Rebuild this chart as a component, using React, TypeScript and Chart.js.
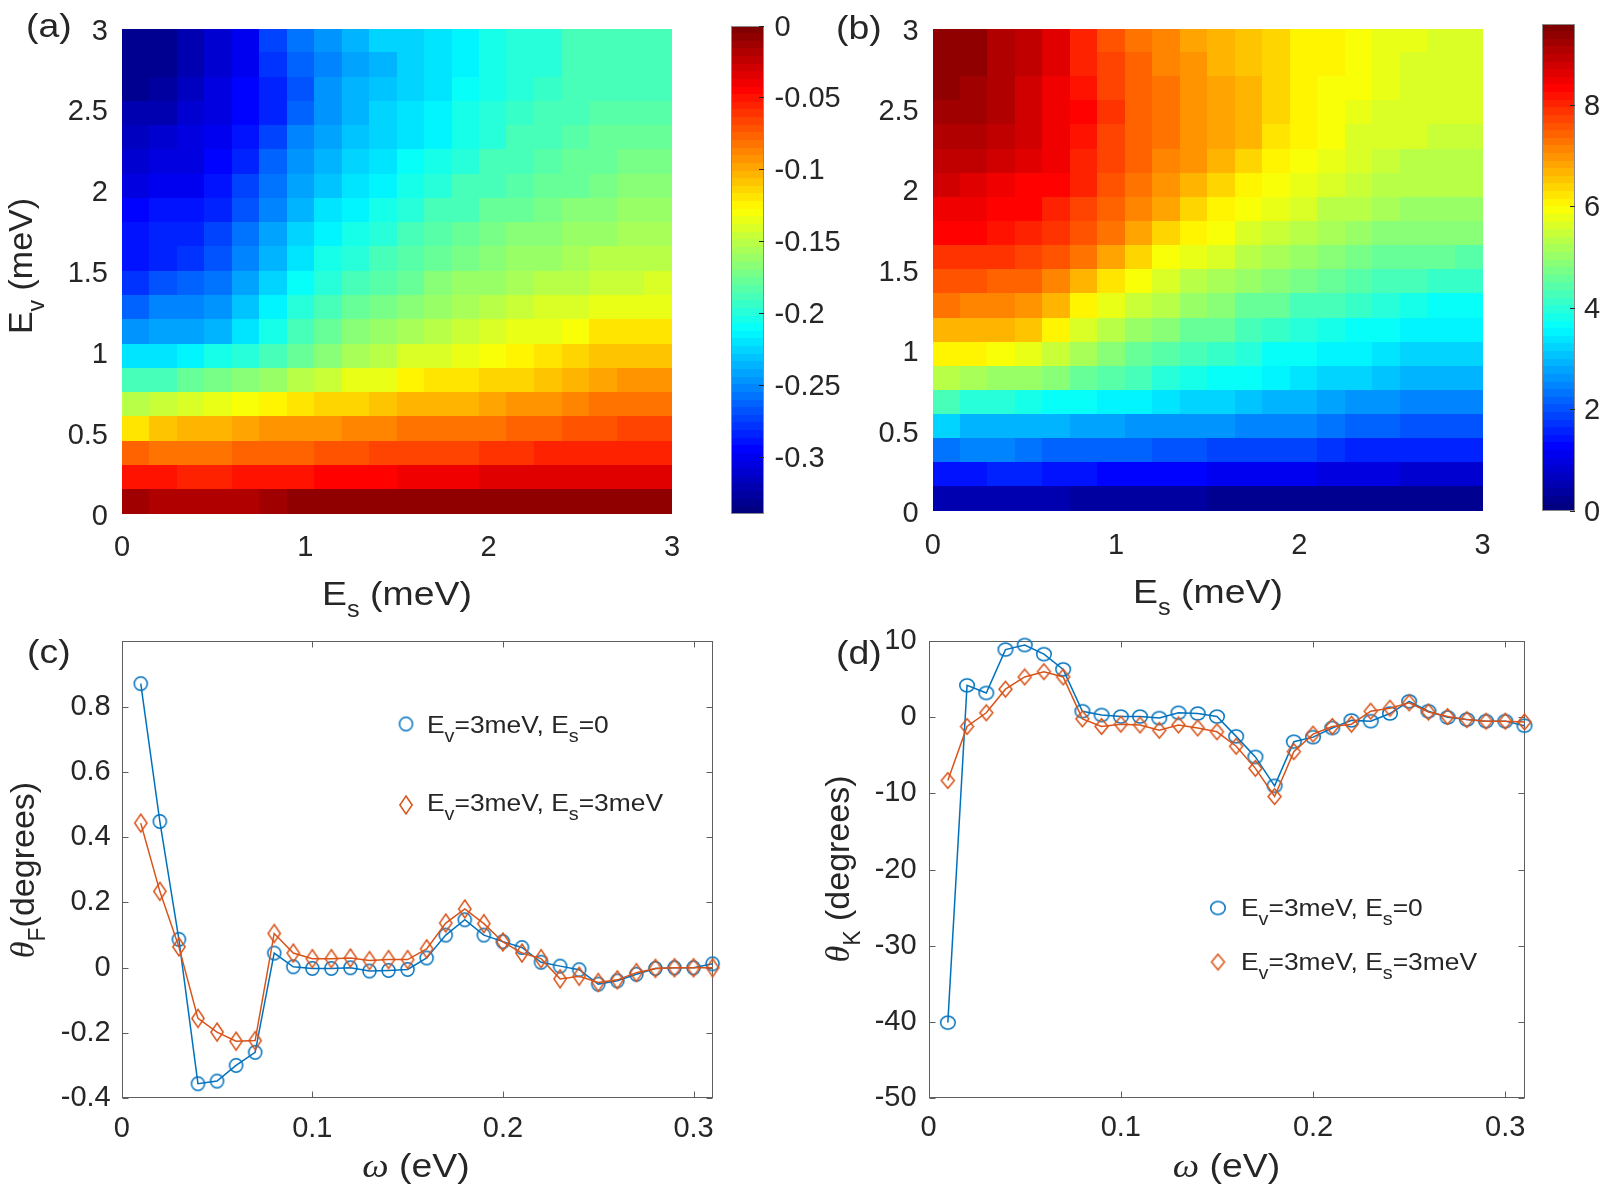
import React, { useEffect, useRef } from "react";
import { Chart, registerables } from "chart.js";

Chart.register(...registerables);

// ---------------- data ----------------
// heat-map grid (cell centres, meV); rows listed from top (E_v = 3) to bottom (E_v = 0)
const ES_CENTERS = [0.075, 0.225, 0.375, 0.525, 0.675, 0.825, 0.975, 1.125, 1.275, 1.425, 1.575, 1.725, 1.875, 2.025, 2.175, 2.325, 2.475, 2.625, 2.775, 2.925];
const EV_CENTERS = [2.925, 2.775, 2.625, 2.475, 2.325, 2.175, 2.025, 1.875, 1.725, 1.575, 1.425, 1.275, 1.125, 0.975, 0.825, 0.675, 0.525, 0.375, 0.225, 0.075];
const SPIN_X_TICKS = [0, 1, 2, 3];
const SPIN_Y_TICKS = [0, 0.5, 1, 1.5, 2, 2.5, 3];

const MAP_A_RANGE = [-0.34, 0];
const MAP_A_TICKS = [-0.3, -0.25, -0.2, -0.15, -0.1, -0.05, 0];
const MAP_A_ROWS = [
  [-0.333, -0.330, -0.320, -0.313, -0.299, -0.272, -0.258, -0.248, -0.238, -0.228, -0.224, -0.221, -0.214, -0.204, -0.201, -0.197, -0.190, -0.190, -0.187, -0.187],
  [-0.333, -0.330, -0.320, -0.309, -0.298, -0.279, -0.265, -0.252, -0.241, -0.235, -0.228, -0.221, -0.214, -0.207, -0.201, -0.197, -0.190, -0.190, -0.187, -0.187],
  [-0.330, -0.326, -0.316, -0.306, -0.296, -0.282, -0.269, -0.248, -0.238, -0.231, -0.224, -0.218, -0.211, -0.204, -0.197, -0.194, -0.190, -0.187, -0.187, -0.187],
  [-0.323, -0.320, -0.313, -0.303, -0.296, -0.282, -0.265, -0.245, -0.235, -0.228, -0.221, -0.214, -0.207, -0.201, -0.194, -0.190, -0.187, -0.184, -0.184, -0.184],
  [-0.316, -0.313, -0.306, -0.299, -0.292, -0.272, -0.255, -0.241, -0.231, -0.224, -0.218, -0.213, -0.204, -0.197, -0.190, -0.187, -0.184, -0.180, -0.180, -0.180],
  [-0.309, -0.306, -0.303, -0.296, -0.286, -0.265, -0.248, -0.238, -0.228, -0.218, -0.211, -0.204, -0.197, -0.190, -0.187, -0.184, -0.180, -0.177, -0.173, -0.173],
  [-0.303, -0.299, -0.298, -0.289, -0.275, -0.258, -0.241, -0.231, -0.221, -0.214, -0.207, -0.197, -0.190, -0.187, -0.184, -0.180, -0.177, -0.173, -0.170, -0.170],
  [-0.296, -0.292, -0.289, -0.282, -0.269, -0.252, -0.235, -0.221, -0.214, -0.207, -0.197, -0.190, -0.187, -0.180, -0.177, -0.173, -0.170, -0.167, -0.163, -0.163],
  [-0.292, -0.286, -0.282, -0.275, -0.258, -0.241, -0.228, -0.214, -0.207, -0.197, -0.190, -0.184, -0.180, -0.173, -0.170, -0.167, -0.163, -0.160, -0.156, -0.156],
  [-0.289, -0.282, -0.279, -0.269, -0.252, -0.235, -0.218, -0.207, -0.197, -0.190, -0.184, -0.177, -0.173, -0.167, -0.163, -0.160, -0.156, -0.153, -0.150, -0.150],
  [-0.279, -0.269, -0.265, -0.258, -0.241, -0.224, -0.211, -0.197, -0.190, -0.184, -0.177, -0.170, -0.163, -0.160, -0.156, -0.153, -0.150, -0.146, -0.146, -0.143],
  [-0.262, -0.255, -0.255, -0.248, -0.231, -0.214, -0.201, -0.190, -0.180, -0.173, -0.167, -0.160, -0.156, -0.150, -0.146, -0.143, -0.139, -0.136, -0.133, -0.133],
  [-0.245, -0.241, -0.241, -0.235, -0.218, -0.204, -0.190, -0.180, -0.170, -0.163, -0.156, -0.150, -0.146, -0.143, -0.136, -0.133, -0.129, -0.122, -0.122, -0.122],
  [-0.218, -0.218, -0.214, -0.207, -0.201, -0.187, -0.177, -0.167, -0.156, -0.150, -0.143, -0.139, -0.133, -0.129, -0.126, -0.122, -0.116, -0.109, -0.109, -0.109],
  [-0.190, -0.187, -0.180, -0.173, -0.170, -0.163, -0.153, -0.146, -0.136, -0.133, -0.126, -0.122, -0.119, -0.116, -0.112, -0.109, -0.102, -0.099, -0.095, -0.095],
  [-0.153, -0.146, -0.143, -0.136, -0.129, -0.126, -0.119, -0.116, -0.112, -0.109, -0.105, -0.102, -0.102, -0.099, -0.095, -0.092, -0.088, -0.085, -0.082, -0.082],
  [-0.119, -0.109, -0.105, -0.102, -0.099, -0.095, -0.092, -0.092, -0.088, -0.088, -0.085, -0.085, -0.082, -0.082, -0.078, -0.075, -0.071, -0.071, -0.068, -0.068],
  [-0.078, -0.082, -0.085, -0.082, -0.078, -0.075, -0.075, -0.071, -0.071, -0.068, -0.068, -0.065, -0.065, -0.061, -0.061, -0.058, -0.058, -0.054, -0.054, -0.054],
  [-0.048, -0.051, -0.054, -0.054, -0.051, -0.048, -0.048, -0.044, -0.044, -0.044, -0.041, -0.041, -0.041, -0.037, -0.037, -0.037, -0.037, -0.034, -0.034, -0.034],
  [-0.014, -0.017, -0.017, -0.017, -0.017, -0.014, -0.010, -0.010, -0.010, -0.010, -0.010, -0.010, -0.010, -0.010, -0.010, -0.010, -0.010, -0.010, -0.010, -0.010],
];

const MAP_B_RANGE = [0, 9.6];
const MAP_B_TICKS = [0, 2, 4, 6, 8];
const MAP_B_ROWS = [
  [9.41, 9.31, 9.12, 8.93, 8.64, 7.97, 7.58, 7.30, 7.10, 6.82, 6.62, 6.53, 6.34, 6.14, 6.00, 5.86, 5.76, 5.76, 5.66, 5.66],
  [9.41, 9.31, 9.12, 8.93, 8.64, 8.06, 7.68, 7.39, 7.10, 6.91, 6.72, 6.53, 6.34, 6.14, 6.00, 5.86, 5.76, 5.66, 5.66, 5.66],
  [9.31, 9.22, 9.12, 8.83, 8.54, 8.16, 7.78, 7.49, 7.20, 7.01, 6.82, 6.62, 6.38, 6.14, 5.95, 5.86, 5.76, 5.66, 5.66, 5.57],
  [9.22, 9.22, 9.02, 8.83, 8.54, 8.26, 7.87, 7.49, 7.20, 7.01, 6.82, 6.62, 6.34, 6.05, 5.95, 5.76, 5.66, 5.57, 5.57, 5.57],
  [9.12, 9.02, 8.93, 8.74, 8.45, 8.16, 7.78, 7.49, 7.20, 7.01, 6.82, 6.62, 6.29, 6.05, 5.86, 5.66, 5.57, 5.57, 5.47, 5.47],
  [8.93, 8.93, 8.83, 8.64, 8.45, 8.06, 7.68, 7.39, 7.10, 6.91, 6.72, 6.34, 6.14, 5.86, 5.76, 5.57, 5.47, 5.38, 5.38, 5.38],
  [8.74, 8.64, 8.45, 8.35, 8.26, 7.97, 7.58, 7.30, 7.01, 6.72, 6.43, 6.14, 5.95, 5.76, 5.57, 5.47, 5.38, 5.28, 5.28, 5.28],
  [8.45, 8.45, 8.35, 8.26, 8.06, 7.78, 7.39, 7.10, 6.82, 6.43, 6.14, 5.95, 5.76, 5.57, 5.38, 5.28, 5.18, 5.09, 4.99, 4.99],
  [8.26, 8.26, 8.16, 8.06, 7.87, 7.58, 7.20, 6.82, 6.34, 6.05, 5.86, 5.66, 5.47, 5.28, 5.18, 4.99, 4.90, 4.80, 4.80, 4.80],
  [7.87, 7.87, 7.87, 7.78, 7.58, 7.20, 6.82, 6.34, 5.95, 5.76, 5.57, 5.38, 5.18, 4.99, 4.90, 4.70, 4.61, 4.51, 4.51, 4.42],
  [7.58, 7.58, 7.39, 7.49, 7.10, 6.72, 6.24, 5.86, 5.66, 5.38, 5.18, 4.99, 4.80, 4.70, 4.51, 4.42, 4.32, 4.22, 4.13, 4.13],
  [7.20, 7.10, 7.10, 7.01, 6.62, 6.14, 5.76, 5.47, 5.28, 4.99, 4.80, 4.61, 4.51, 4.32, 4.22, 4.13, 3.94, 3.84, 3.74, 3.74],
  [6.72, 6.62, 6.62, 6.53, 6.14, 5.66, 5.38, 5.09, 4.90, 4.61, 4.51, 4.32, 4.13, 4.03, 3.84, 3.74, 3.65, 3.55, 3.46, 3.46],
  [6.05, 6.05, 5.95, 5.76, 5.47, 5.18, 4.90, 4.61, 4.42, 4.22, 4.13, 3.94, 3.74, 3.65, 3.55, 3.46, 3.36, 3.26, 3.17, 3.17],
  [5.38, 5.18, 5.09, 4.99, 4.80, 4.61, 4.42, 4.22, 4.03, 3.84, 3.74, 3.60, 3.46, 3.36, 3.26, 3.17, 3.07, 2.98, 2.88, 2.88],
  [4.22, 4.03, 3.94, 3.84, 3.74, 3.65, 3.55, 3.46, 3.36, 3.26, 3.17, 3.07, 2.98, 2.88, 2.78, 2.69, 2.59, 2.50, 2.50, 2.50],
  [3.26, 2.98, 2.88, 2.88, 2.88, 2.78, 2.78, 2.69, 2.69, 2.59, 2.59, 2.50, 2.40, 2.40, 2.30, 2.21, 2.11, 2.02, 2.02, 2.02],
  [2.30, 2.40, 2.40, 2.30, 2.21, 2.21, 2.11, 2.11, 2.02, 2.02, 1.92, 1.92, 1.82, 1.82, 1.73, 1.63, 1.63, 1.54, 1.54, 1.54],
  [1.44, 1.44, 1.54, 1.54, 1.44, 1.44, 1.34, 1.34, 1.25, 1.25, 1.15, 1.15, 1.06, 1.06, 0.96, 0.96, 0.96, 0.86, 0.86, 0.86],
  [0.58, 0.58, 0.58, 0.58, 0.48, 0.38, 0.38, 0.38, 0.38, 0.38, 0.29, 0.29, 0.29, 0.29, 0.29, 0.29, 0.29, 0.29, 0.29, 0.29],
];

// spectra
const OMEGA = [0.01, 0.02, 0.03, 0.04, 0.05, 0.06, 0.07, 0.08, 0.09, 0.10, 0.11, 0.12, 0.13, 0.14, 0.15, 0.16, 0.17, 0.18, 0.19, 0.20, 0.21, 0.22, 0.23, 0.24, 0.25, 0.26, 0.27, 0.28, 0.29, 0.30, 0.31];
const OMEGA_TICKS = [0, 0.1, 0.2, 0.3];
const FARADAY_ES0 = [0.870, 0.448, 0.087, -0.355, -0.347, -0.299, -0.259, 0.045, 0.003, -0.002, -0.002, 0.0, -0.010, -0.008, -0.005, 0.030, 0.100, 0.147, 0.100, 0.080, 0.062, 0.017, 0.005, -0.006, -0.050, -0.040, -0.020, -0.002, 0.0, 0.0, 0.012];
const FARADAY_ES3 = [0.443, 0.234, 0.064, -0.155, -0.197, -0.225, -0.223, 0.105, 0.045, 0.028, 0.028, 0.030, 0.022, 0.025, 0.025, 0.058, 0.137, 0.180, 0.135, 0.079, 0.045, 0.028, -0.034, -0.026, -0.045, -0.037, -0.015, -0.002, 0.0, 0.0, 0.0];
const FARADAY_TICKS = [-0.4, -0.2, 0, 0.2, 0.4, 0.6, 0.8];
const KERR_ES0 = [-40.1, 4.2, 3.2, 8.9, 9.5, 8.3, 6.3, 0.8, 0.3, 0.1, 0.1, -0.1, 0.6, 0.5, 0.1, -2.5, -5.2, -9.0, -3.2, -2.6, -1.4, -0.4, -0.5, 0.5, 2.1, 0.8, 0.0, -0.3, -0.5, -0.5, -1.1];
const KERR_ES3 = [-8.3, -1.2, 0.6, 3.7, 5.3, 6.0, 5.3, -0.2, -1.2, -0.9, -1.0, -1.7, -1.0, -1.4, -1.9, -3.8, -6.7, -10.4, -4.5, -2.2, -1.2, -0.9, 0.8, 1.2, 1.9, 0.7, 0.1, -0.3, -0.5, -0.5, -0.6];
const KERR_TICKS = [-50, -40, -30, -20, -10, 0, 10];

// ---------------- styling ----------------
const FONT = '"Liberation Sans", Arial, Helvetica, sans-serif';
const SERIF = '"Liberation Serif", "Times New Roman", serif';
const INK = "#262626";
const FRAME = "#5f5f5f";
const BLUE = "#0072BD";
const ORANGE = "#D95319";
const SX = 1.1;
const MAIN = `34px ${FONT}`;
const SUB = `23px ${FONT}`;
const GREEK = `italic 34px ${SERIF}`;
const LEG = `24px ${FONT}`;
const LEGSUB = `18px ${FONT}`;
const tickFont = { family: FONT, size: 29, lineHeight: 1 };
const LEVELS = 64;

const fmt = (v: any) => String(Math.round(Number(v) * 1000) / 1000);
const fixedTicks = (values: number[]) => (axis: any) => {
  axis.ticks = values.map((v) => ({ value: v }));
};

function jet(t: number) {
  const c = (v: number) => Math.max(0, Math.min(1, v));
  const r = c(Math.min(4 * t - 1.5, -4 * t + 4.5));
  const g = c(Math.min(4 * t - 0.5, -4 * t + 3.5));
  const b = c(Math.min(4 * t + 0.5, -4 * t + 2.5));
  return `rgb(${Math.round(r * 255)},${Math.round(g * 255)},${Math.round(b * 255)})`;
}
function levelColor(v: number, range: number[]) {
  let k = Math.floor(((v - range[0]) / (range[1] - range[0])) * LEVELS);
  k = Math.max(0, Math.min(LEVELS - 1, k));
  return jet(k / (LEVELS - 1));
}

type Part = { t: string; font: string; dy?: number };
function drawRich(ctx: CanvasRenderingContext2D, parts: Part[], x: number, y: number, align: string, rotate: boolean, sx: number) {
  ctx.save();
  ctx.fillStyle = INK;
  ctx.textBaseline = "alphabetic";
  ctx.textAlign = "left";
  let total = 0;
  const widths = parts.map((p) => {
    ctx.font = p.font;
    const w = ctx.measureText(p.t).width;
    total += w;
    return w;
  });
  ctx.translate(x, y);
  if (rotate) ctx.rotate(-Math.PI / 2);
  ctx.scale(sx, 1);
  let cx = align === "center" ? -total / 2 : 0;
  parts.forEach((p, i) => {
    ctx.font = p.font;
    ctx.fillText(p.t, cx, p.dy || 0);
    cx += widths[i];
  });
  ctx.restore();
}

type TextItem = { parts: Part[]; x: number; y: number; align: string; rotate?: boolean };
const textPlugin = (items: TextItem[], ox: number, oy: number) => ({
  id: "texts",
  afterDraw(chart: any) {
    items.forEach((it) =>
      drawRich(chart.ctx, it.parts, it.x - ox, it.y - oy, it.align, !!it.rotate, it.rotate ? 1 : SX)
    );
  },
});

const cellsPlugin = (range: number[]) => ({
  id: "cells",
  beforeDatasetsDraw(chart: any) {
    const { ctx, chartArea: a } = chart;
    const xs = chart.scales.x;
    const ys = chart.scales.y;
    const hx = (ES_CENTERS[1] - ES_CENTERS[0]) / 2;
    const hy = Math.abs(EV_CENTERS[0] - EV_CENTERS[1]) / 2;
    ctx.save();
    ctx.beginPath();
    ctx.rect(Math.round(a.left), Math.round(a.top), Math.round(a.right) - Math.round(a.left), Math.round(a.bottom) - Math.round(a.top));
    ctx.clip();
    for (const p of chart.data.datasets[0].data) {
      const x0 = Math.floor(xs.getPixelForValue(p.x - hx));
      const x1 = Math.ceil(xs.getPixelForValue(p.x + hx));
      const y0 = Math.floor(ys.getPixelForValue(p.y + hy));
      const y1 = Math.ceil(ys.getPixelForValue(p.y - hy));
      ctx.fillStyle = levelColor(p.v, range);
      ctx.fillRect(x0, y0, x1 - x0 + 1, y1 - y0 + 1);
    }
    ctx.restore();
  },
});

const colorbarPlugin = (range: number[]) => ({
  id: "colorbar",
  afterDraw(chart: any) {
    const { ctx, chartArea: a } = chart;
    const ys = chart.scales.y;
    const [lo, hi] = range;
    const L = Math.round(a.left);
    const R = Math.round(a.right);
    ctx.save();
    for (let k = 0; k < LEVELS; k++) {
      const yb = Math.round(ys.getPixelForValue(lo + (k * (hi - lo)) / LEVELS));
      const yt = Math.round(ys.getPixelForValue(lo + ((k + 1) * (hi - lo)) / LEVELS));
      ctx.fillStyle = jet(k / (LEVELS - 1));
      ctx.fillRect(L, yt, R - L, yb - yt);
    }
    ctx.strokeStyle = "#8a8a8a";
    ctx.lineWidth = 1;
    ctx.strokeRect(L + 0.5, Math.round(a.top) + 0.5, R - L - 1, Math.round(a.bottom) - Math.round(a.top) - 1);
    ctx.strokeStyle = INK;
    ctx.beginPath();
    for (const t of ys.ticks) {
      const y = Math.round(ys.getPixelForValue(t.value)) + 0.5;
      ctx.moveTo(R, y);
      ctx.lineTo(R - 5, y);
    }
    ctx.stroke();
    ctx.restore();
  },
});

const framePlugin = {
  id: "frame",
  beforeDatasetsDraw(chart: any) {
    const { ctx, chartArea: a } = chart;
    const xs = chart.scales.x;
    const ys = chart.scales.y;
    const L = Math.round(a.left) + 0.5;
    const R = Math.round(a.right) - 0.5;
    const T = Math.round(a.top) + 0.5;
    const B = Math.round(a.bottom) - 0.5;
    ctx.save();
    ctx.strokeStyle = FRAME;
    ctx.lineWidth = 1;
    ctx.strokeRect(L, T, R - L, B - T);
    ctx.beginPath();
    for (const t of xs.ticks) {
      const x = Math.round(xs.getPixelForValue(t.value)) + 0.5;
      ctx.moveTo(x, B);
      ctx.lineTo(x, B - 6);
      ctx.moveTo(x, T);
      ctx.lineTo(x, T + 6);
    }
    for (const t of ys.ticks) {
      const y = Math.round(ys.getPixelForValue(t.value)) + 0.5;
      ctx.moveTo(L, y);
      ctx.lineTo(L + 6, y);
      ctx.moveTo(R, y);
      ctx.lineTo(R - 6, y);
    }
    ctx.stroke();
    ctx.restore();
  },
};

type LegendItem = { ds: number; mx: number; my: number; tx: number; ty: number; parts: Part[] };
const legendPlugin = (items: LegendItem[], ox: number, oy: number) => ({
  id: "legendBox",
  afterDraw(chart: any) {
    const ctx = chart.ctx;
    items.forEach((it) => {
      const img = chart.data.datasets[it.ds].pointStyle;
      ctx.drawImage(img, it.mx - ox - img.width / 2, it.my - oy - img.height / 2);
      drawRich(ctx, it.parts, it.tx - ox, it.ty - oy, "left", false, SX);
    });
  },
});

function makeMarker(kind: string, w: number, h: number, color: string) {
  const lw = 1.5;
  const cw = Math.ceil(w + lw + 2);
  const chh = Math.ceil(h + lw + 2);
  const c = document.createElement("canvas");
  c.width = cw;
  c.height = chh;
  const ctx = c.getContext("2d")!;
  ctx.strokeStyle = color;
  ctx.lineWidth = lw;
  const cx = cw / 2;
  const cy = chh / 2;
  ctx.beginPath();
  if (kind === "circle") {
    ctx.ellipse(cx, cy, w / 2, h / 2, 0, 0, Math.PI * 2);
  } else {
    ctx.moveTo(cx, cy - h / 2);
    ctx.lineTo(cx + w / 2, cy);
    ctx.lineTo(cx, cy + h / 2);
    ctx.lineTo(cx - w / 2, cy);
    ctx.closePath();
  }
  ctx.stroke();
  return c;
}

const baseOptions = (pad: any) => ({
  animation: false as const,
  responsive: false,
  devicePixelRatio: 1,
  events: [] as any[],
  layout: { padding: pad },
  plugins: { legend: { display: false }, tooltip: { enabled: false } },
});

const axisCommon = (ticks: number[], padding: number, labelOffset = 0) => ({
  type: "linear" as const,
  afterBuildTicks: fixedTicks(ticks),
  grid: { display: false, drawTicks: false },
  border: { display: false },
  ticks: { font: tickFont, color: INK, padding, labelOffset, callback: fmt, autoSkip: false, maxRotation: 0 },
});

function makeHeatmap(canvas: HTMLCanvasElement, g: any, rows: number[][], range: number[], texts: TextItem[]) {
  const data: any[] = [];
  rows.forEach((row, i) => row.forEach((v, j) => data.push({ x: ES_CENTERS[j], y: EV_CENTERS[i], v })));
  return new Chart(canvas, {
    type: "scatter",
    data: { datasets: [{ data, pointRadius: 0, pointHoverRadius: 0 }] },
    options: {
      ...baseOptions(g.pad),
      scales: {
        x: { ...axisCommon(SPIN_X_TICKS, g.xpad), min: 0, max: 3, afterFit: (a: any) => { a.height = g.xh; } },
        y: { ...axisCommon(SPIN_Y_TICKS, g.ypad, 3), min: 0, max: 3, afterFit: (a: any) => { a.width = g.yw; } },
      },
    } as any,
    plugins: [cellsPlugin(range), textPlugin(texts, g.left, g.top)],
  } as any);
}

function makeColorbar(canvas: HTMLCanvasElement, g: any, range: number[], ticks: number[]) {
  return new Chart(canvas, {
    type: "scatter",
    data: { datasets: [] },
    options: {
      ...baseOptions(g.pad),
      scales: {
        x: { display: false, min: 0, max: 1 },
        y: { ...axisCommon(ticks, g.ypad, 2), position: "right", min: range[0], max: range[1], afterFit: (a: any) => { a.width = g.yw; } },
      },
    } as any,
    plugins: [colorbarPlugin(range)],
  } as any);
}

function makeSpectrum(canvas: HTMLCanvasElement, g: any, s0: number[], s3: number[], yRange: number[], yTicks: number[], markers: any, texts: TextItem[], legend: LegendItem[]) {
  const common = { showLine: true, borderWidth: 1.5, pointRadius: 7, pointHoverRadius: 7, clip: false as const, tension: 0 };
  return new Chart(canvas, {
    type: "scatter",
    data: {
      datasets: [
        { ...common, label: "Ev=3meV, Es=0", data: OMEGA.map((x, i) => ({ x, y: s0[i] })), borderColor: BLUE, backgroundColor: BLUE, pointStyle: markers.circle, order: 1 },
        { ...common, label: "Ev=3meV, Es=3meV", data: OMEGA.map((x, i) => ({ x, y: s3[i] })), borderColor: ORANGE, backgroundColor: ORANGE, pointStyle: markers.diamond, order: 0 },
      ],
    },
    options: {
      ...baseOptions(g.pad),
      scales: {
        x: { ...axisCommon(OMEGA_TICKS, g.xpad), min: 0, max: 0.31, afterFit: (a: any) => { a.height = g.xh; } },
        y: { ...axisCommon(yTicks, g.ypad), min: yRange[0], max: yRange[1], afterFit: (a: any) => { a.width = g.yw; } },
      },
    } as any,
    plugins: [framePlugin, legendPlugin(legend, g.left, g.top), textPlugin(texts, g.left, g.top)],
  } as any);
}

// canvas geometry (page pixels)
const G_A = { left: 0, top: 0, w: 700, h: 625, pad: { left: 0, top: 18.6, right: 28, bottom: 0 }, yw: 122, xh: 111, xpad: 19, ypad: 14 };
const G_CA = { left: 700, top: 0, w: 150, h: 625, pad: { left: 31, top: 18.6, right: 0, bottom: 111 }, yw: 86.4, ypad: 11 };
const G_B = { left: 800, top: 0, w: 720, h: 625, pad: { left: 0, top: 14.5, right: 37.4, bottom: 0 }, yw: 132.7, xh: 114, xpad: 20, ypad: 14 };
const G_CB = { left: 1520, top: 0, w: 80, h: 625, pad: { left: 21.5, top: 14.5, right: 0, bottom: 114 }, yw: 25, ypad: 9 };
const G_C = { left: 0, top: 600, w: 800, h: 594, pad: { left: 0, top: 41.2, right: 87.4, bottom: 0 }, yw: 121.7, xh: 95.6, xpad: 16, ypad: 11 };
const G_D = { left: 800, top: 600, w: 800, h: 594, pad: { left: 0, top: 41.2, right: 75.5, bottom: 0 }, yw: 128.6, xh: 96, xpad: 15, ypad: 12 };
const GEOMS = [G_A, G_CA, G_B, G_CB, G_C, G_D];

const legendParts = (es: string): Part[] => [
  { t: "E", font: LEG },
  { t: "v", font: LEGSUB, dy: 9 },
  { t: "=3meV, E", font: LEG },
  { t: "s", font: LEGSUB, dy: 9 },
  { t: es, font: LEG },
];

export default function App() {
  const refs = [useRef<HTMLCanvasElement>(null), useRef<HTMLCanvasElement>(null), useRef<HTMLCanvasElement>(null), useRef<HTMLCanvasElement>(null), useRef<HTMLCanvasElement>(null), useRef<HTMLCanvasElement>(null)];

  useEffect(() => {
    const [ca, cca, cb, ccb, cc, cd] = refs.map((r) => r.current!);
    const charts: Chart[] = [];
    const esTitle = (x: number, y: number): TextItem => ({
      parts: [{ t: "E", font: MAIN }, { t: "s", font: SUB, dy: 12 }, { t: " (meV)", font: MAIN }],
      x, y, align: "center",
    });
    charts.push(
      makeHeatmap(ca, G_A, MAP_A_ROWS, MAP_A_RANGE, [
        { parts: [{ t: "(a)", font: MAIN }], x: 26, y: 37, align: "left" },
        esTitle(397, 605),
        { parts: [{ t: "E", font: MAIN }, { t: "v", font: SUB, dy: 12 }, { t: " (meV)", font: MAIN }], x: 32, y: 266, align: "center", rotate: true },
      ])
    );
    charts.push(makeColorbar(cca, G_CA, MAP_A_RANGE, MAP_A_TICKS));
    charts.push(
      makeHeatmap(cb, G_B, MAP_B_ROWS, MAP_B_RANGE, [
        { parts: [{ t: "(b)", font: MAIN }], x: 836, y: 38.5, align: "left" },
        esTitle(1208, 603),
      ])
    );
    charts.push(makeColorbar(ccb, G_CB, MAP_B_RANGE, MAP_B_TICKS));

    const mkC = { circle: makeMarker("circle", 13, 13.5, BLUE), diamond: makeMarker("diamond", 12.3, 18, ORANGE) };
    const mkD = { circle: makeMarker("circle", 14.5, 13, BLUE), diamond: makeMarker("diamond", 13, 15.5, ORANGE) };
    charts.push(
      makeSpectrum(cc, G_C, FARADAY_ES0, FARADAY_ES3, [-0.4, 1.0], FARADAY_TICKS, mkC, [
        { parts: [{ t: "(c)", font: MAIN }], x: 27, y: 663, align: "left" },
        { parts: [{ t: "ω", font: GREEK }, { t: " (eV)", font: MAIN }], x: 416, y: 1177, align: "center" },
        { parts: [{ t: "θ", font: GREEK }, { t: "F", font: SUB, dy: 11 }, { t: "(degrees)", font: MAIN }], x: 34, y: 870, align: "center", rotate: true },
      ], [
        { ds: 0, mx: 406, my: 724, tx: 427, ty: 733, parts: legendParts("=0") },
        { ds: 1, mx: 406, my: 805, tx: 427, ty: 811, parts: legendParts("=3meV") },
      ])
    );
    charts.push(
      makeSpectrum(cd, G_D, KERR_ES0, KERR_ES3, [-50, 10], KERR_TICKS, mkD, [
        { parts: [{ t: "(d)", font: MAIN }], x: 836, y: 664, align: "left" },
        { parts: [{ t: "ω", font: GREEK }, { t: " (eV)", font: MAIN }], x: 1226.5, y: 1177, align: "center" },
        { parts: [{ t: "θ", font: GREEK }, { t: "K", font: SUB, dy: 11 }, { t: " (degrees)", font: MAIN }], x: 849, y: 869, align: "center", rotate: true },
      ], [
        { ds: 0, mx: 1218, my: 908, tx: 1241, ty: 916, parts: legendParts("=0") },
        { ds: 1, mx: 1218, my: 962, tx: 1241, ty: 970, parts: legendParts("=3meV") },
      ])
    );
    return () => charts.forEach((c) => c.destroy());
  }, []);

  return (
    <div style={{ position: "absolute", left: 0, top: 0, width: 1600, height: 1194, background: "#ffffff", overflow: "hidden" }}>
      {GEOMS.map((g, i) => (
        <canvas
          key={i}
          ref={refs[i]}
          width={g.w}
          height={g.h}
          style={{ position: "absolute", left: g.left, top: g.top, width: g.w, height: g.h }}
        />
      ))}
    </div>
  );
}
